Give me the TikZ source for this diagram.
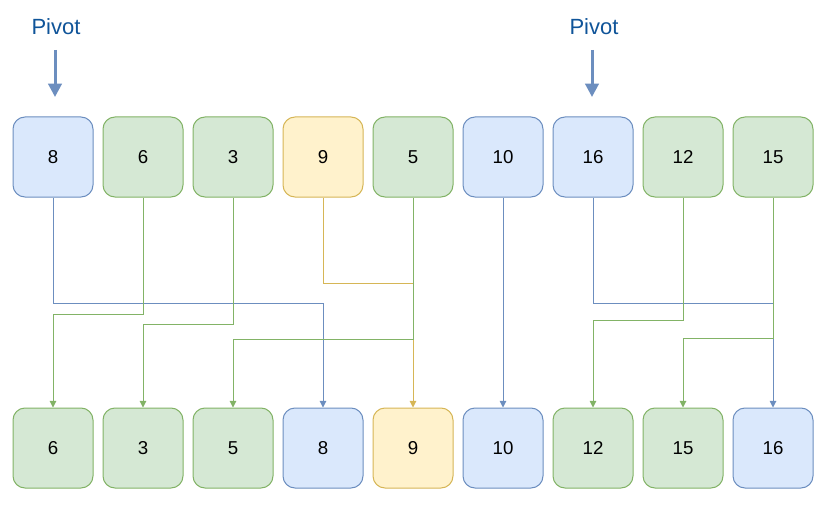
\documentclass[tikz,border=0pt]{standalone}
\usepackage{fontspec}
\setmainfont{Liberation Sans}
\usetikzlibrary{arrows.meta}
\definecolor{bluefill}{HTML}{DAE8FC}
\definecolor{bluedraw}{HTML}{6C8EBF}
\definecolor{greenfill}{HTML}{D5E8D4}
\definecolor{greendraw}{HTML}{82B366}
\definecolor{yellowfill}{HTML}{FFF2CC}
\definecolor{yellowdraw}{HTML}{D6B656}
\definecolor{pivottext}{HTML}{0F5499}
\tikzset{
  cell/.style={draw, rounded corners=9pt, minimum size=60pt, line width=0.75pt,
               font=\fontsize{14}{16}\selectfont},
  bluecell/.style={cell, fill=bluefill, draw=bluedraw},
  greencell/.style={cell, fill=greenfill, draw=greendraw},
  yellowcell/.style={cell, fill=yellowfill, draw=yellowdraw},
  link/.style={line width=0.75pt, -{Triangle[width=5pt,length=5pt]}},
  bluelink/.style={link, draw=bluedraw},
  greenlink/.style={link, draw=greendraw},
  yellowlink/.style={link, draw=yellowdraw},
  pivotlabel/.style={text=pivottext, font=\fontsize{16.5}{19}\selectfont},
  pivotarrow/.style={draw=bluedraw, line width=2.25pt, -{Triangle[width=10pt,length=10pt]}}
}
\begin{document}
\begin{tikzpicture}[x=0.75pt, y=-0.75pt]
  \useasboundingbox (0, 0) rectangle (832, 528);

  % pivot markers
  \node[pivotlabel] (pivotA) at (56, 27)  {Pivot};
  \node[pivotlabel] (pivotB) at (594, 27) {Pivot};
  \coordinate (pivotAtop) at (55, 50);
  \coordinate (pivotAend) at (55, 97);
  \coordinate (pivotBtop) at (592, 50);
  \coordinate (pivotBend) at (592, 97);
  \draw[pivotarrow] (pivotAtop) -- (pivotAend);
  \draw[pivotarrow] (pivotBtop) -- (pivotBend);

  % input row
  \node[bluecell]   (in8)  at (53, 157)  {8};
  \node[greencell]  (in6)  at (143, 157) {6};
  \node[greencell]  (in3)  at (233, 157) {3};
  \node[yellowcell] (in9)  at (323, 157) {9};
  \node[greencell]  (in5)  at (413, 157) {5};
  \node[bluecell]   (in10) at (503, 157) {10};
  \node[bluecell]   (in16) at (593, 157) {16};
  \node[greencell]  (in12) at (683, 157) {12};
  \node[greencell]  (in15) at (773, 157) {15};

  % output row
  \node[greencell]  (out6)  at (53, 448)  {6};
  \node[greencell]  (out3)  at (143, 448) {3};
  \node[greencell]  (out5)  at (233, 448) {5};
  \node[bluecell]   (out8)  at (323, 448) {8};
  \node[yellowcell] (out9)  at (413, 448) {9};
  \node[bluecell]   (out10) at (503, 448) {10};
  \node[greencell]  (out12) at (593, 448) {12};
  \node[greencell]  (out15) at (683, 448) {15};
  \node[bluecell]   (out16) at (773, 448) {16};

  % moves
  \draw[bluelink]   (in8.south)  -- (in8.south |- 0, 303)  -| (out8.north);
  \draw[greenlink]  (in6.south)  -- (in6.south |- 0, 314)  -| (out6.north);
  \draw[greenlink]  (in3.south)  -- (in3.south |- 0, 324)  -| (out3.north);
  \draw[yellowlink] (in9.south)  -- (in9.south |- 0, 283)  -| (out9.north);
  \draw[greenlink]  (in5.south)  -- (in5.south |- 0, 339)  -| (out5.north);
  \draw[bluelink]   (in10.south) -- (out10.north);
  \draw[bluelink]   (in16.south) -- (in16.south |- 0, 303) -| (out16.north);
  \draw[greenlink]  (in12.south) -- (in12.south |- 0, 320) -| (out12.north);
  \draw[greenlink]  (in15.south) -- (in15.south |- 0, 338) -| (out15.north);
\end{tikzpicture}
\end{document}
